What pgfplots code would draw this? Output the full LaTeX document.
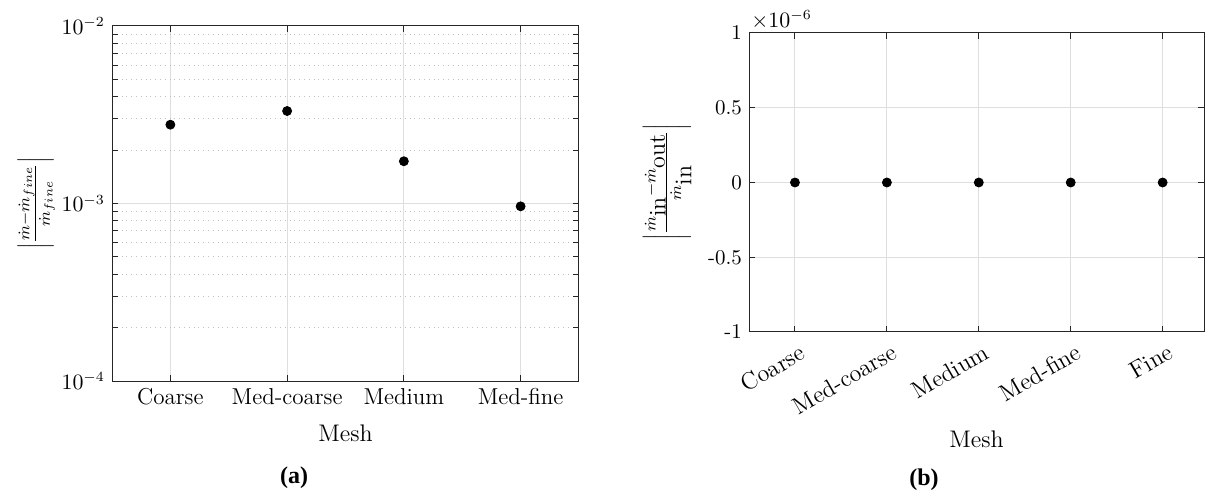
\documentclass[border=0pt]{standalone}
\usepackage{fontspec}
\usepackage{pgfplots}
\pgfplotsset{compat=1.18}
\newfontfamily\capfont{Liberation Serif}
\definecolor{gridc}{gray}{0.87}
\definecolor{axc}{gray}{0.15}
\begin{document}
\begin{tikzpicture}
\useasboundingbox (0,0) rectangle (602.5pt,248.5pt);
\pgfplotsset{
  mystyle/.style={
    scale only axis,
    anchor=south west,
    axis line style={axc, line width=0.5pt},
    every tick/.style={axc, line width=0.5pt},
    major tick length=2.8pt,
    minor tick length=2.8pt,
    xmajorgrids, ymajorgrids,
    major grid style={gridc, line width=0.5pt},
    minor grid style={gray!50, dotted, line width=0.5pt},
    yticklabel style={font=\fontsize{10.5}{12}\selectfont},
    xticklabel style={font=\fontsize{11.5}{13}\selectfont},
    xlabel style={font=\fontsize{12}{14}\selectfont, anchor=center},
    ylabel style={font=\fontsize{12}{14}\selectfont, anchor=center},
  },
}
\begin{axis}[mystyle,
  at={(56pt,58pt)}, width=233.5pt, height=177.5pt,
  xmin=0.5, xmax=4.5, xtick={1,2,3,4},
  xticklabels={Coarse,Med-coarse,Medium,Med-fine},
  ymode=log, ymin=1e-4, ymax=1e-2,
  yminorgrids,
  xlabel={Mesh},
  xlabel style={at={(axis description cs:0.5,-0.1465)}},
  ylabel={$\left|\frac{\dot m-\dot m_{fine}}{\dot m_{fine}}\right|$},
  ylabel style={at={(axis description cs:-0.162,0.5)}},
]
\addplot[only marks, mark=*, mark size=2.25pt, black] coordinates {
  (1,2.78e-3) (2,3.32e-3) (3,1.73e-3) (4,9.64e-4)
};
\end{axis}
\begin{axis}[mystyle, clip=false,
  at={(374.5pt,82.5pt)}, width=227.5pt, height=149.5pt,
  xmin=0.5, xmax=5.45, xtick={1,2,3,4,5},
  xticklabels={Coarse,Med-coarse,Medium,Med-fine,Fine},
  xticklabel style={rotate=30, anchor=north east, inner sep=1pt, yshift=-4.5pt, font=\fontsize{12}{14}\selectfont},
  ymin=-1, ymax=1, ytick={-1,-0.5,0,0.5,1},
  yticklabels={-1,-0.5,0,0.5,1},
  xlabel={Mesh},
  xlabel style={at={(axis description cs:0.5,-0.358)}},
  ylabel={$\left|\frac{\dot m_{\mbox{in}}-\dot m_{\mbox{out}}}{\dot m_{\mbox{in}}}\right|$},
  ylabel style={at={(axis description cs:-0.180,0.5)}},
]
\addplot[only marks, mark=*, mark size=2.25pt, black] coordinates {
  (1,0) (2,0) (3,0) (4,0) (5,0)
};
\node[anchor=south west, inner sep=1pt, font=\fontsize{10.5}{12}\selectfont] at (axis description cs:0,1.005) {$\times10^{-6}$};
\end{axis}
\node[inner sep=0pt] at (147pt,9.5pt) {\capfont\bfseries\fontsize{12}{14}\selectfont (a)};
\node[inner sep=0pt] at (462pt,8.5pt) {\capfont\bfseries\fontsize{12}{14}\selectfont (b)};
\end{tikzpicture}
\end{document}
